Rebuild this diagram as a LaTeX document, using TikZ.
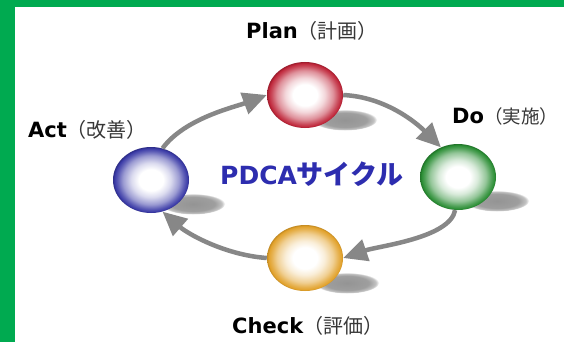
\documentclass[tikz,border=0pt]{standalone}
\usepackage{fontspec}
\setmainfont{DejaVu Sans}
\newfontfamily\jp{Noto Sans CJK JP}
\usetikzlibrary{shapes.geometric,arrows.meta}
\definecolor{frame}{RGB}{0,170,80}
\definecolor{ballR}{RGB}{190,35,55}
\definecolor{ballG}{RGB}{40,140,50}
\definecolor{ballB}{RGB}{55,55,165}
\definecolor{ballO}{RGB}{225,160,40}
\definecolor{arrowgray}{RGB}{135,135,135}
\definecolor{pdcablue}{RGB}{45,45,175}
\definecolor{jpgray}{RGB}{55,55,55}
\pgfdeclareradialshading{redball}{\pgfpoint{0bp}{0bp}}{color(0bp)=(white); color(8bp)=(white); color(13bp)=(ballR!18); color(18.5bp)=(ballR!50); color(22bp)=(ballR!82); color(24.3bp)=(ballR); color(25bp)=(ballR!80!black); color(50bp)=(ballR!80!black)}
\pgfdeclareradialshading{greenball}{\pgfpoint{0bp}{0bp}}{color(0bp)=(white); color(8bp)=(white); color(13bp)=(ballG!18); color(18.5bp)=(ballG!50); color(22bp)=(ballG!82); color(24.3bp)=(ballG); color(25bp)=(ballG!80!black); color(50bp)=(ballG!80!black)}
\pgfdeclareradialshading{blueball}{\pgfpoint{0bp}{0bp}}{color(0bp)=(white); color(8bp)=(white); color(13bp)=(ballB!18); color(18.5bp)=(ballB!50); color(22bp)=(ballB!82); color(24.3bp)=(ballB); color(25bp)=(ballB!80!black); color(50bp)=(ballB!80!black)}
\pgfdeclareradialshading{orangeball}{\pgfpoint{0bp}{0bp}}{color(0bp)=(white); color(8bp)=(white); color(13bp)=(ballO!18); color(18.5bp)=(ballO!50); color(22bp)=(ballO!82); color(24.3bp)=(ballO); color(25bp)=(ballO!85!black); color(50bp)=(ballO!85!black)}
\pgfdeclareradialshading{shadowsh}{\pgfpoint{0bp}{0bp}}{color(0bp)=(black!42); color(17bp)=(black!38); color(22.5bp)=(black!24); color(25bp)=(white); color(50bp)=(white)}
\tikzset{
  sphere/.style={ellipse, minimum width=76pt, minimum height=66pt, inner sep=0pt, draw=none},
  shadowball/.style={ellipse, minimum width=64pt, minimum height=21pt, inner sep=0pt, draw=none, shading=shadowsh},
  cyc/.style={draw=arrowgray, line width=4.5pt, -{Triangle[length=24pt,width=22pt]}},
  lab/.style={anchor=base west, inner sep=0pt, font=\fontsize{21}{24}\selectfont\bfseries}
}
\newcommand{\jpl}[1]{{\jp\mdseries\fontsize{20}{24}\selectfont\color{jpgray}#1}}
\newcommand{\jps}[1]{{\jp\mdseries\fontsize{18.5}{24}\selectfont\color{jpgray}#1}}
\begin{document}
\begin{tikzpicture}[x=1pt,y=-1pt]
\useasboundingbox (0,0) rectangle (564,342);
\fill[frame] (0,0) rectangle (564,342);
\fill[white] (15,7) rectangle (564,342);
% shadows
\node[shadowball] (ps) at (345,120) {};
\node[shadowball] (ds) at (497,201) {};
\node[shadowball] (as) at (193,204) {};
\node[shadowball] (cs) at (347,283) {};
% spheres
\node[sphere, shading=redball] (p) at (305,95) {};
\node[sphere, shading=greenball] (d) at (458,177) {};
\node[sphere, shading=blueball] (a) at (151,180) {};
\node[sphere, shading=orangeball] (c) at (305,258) {};
% arrows
\draw[cyc] (a.70) .. controls +(22,-30) and +(-32,12) .. (p.west);
\draw[cyc] (p.east) .. controls +(42,2) and +(-25,-25) .. (d.120);
\draw[cyc] (d.265) .. controls +(-5,28) and +(35,-12) .. (c.east);
\draw[cyc] (c.west) .. controls +(-42,-3) and +(25,22) .. (a.290);
% labels
\node[lab] (pl) at (246,39) {Plan\jpl{（計画）}};
\node[lab] (dl) at (452,123) {Do\jps{（実施）}};
\node[lab] (al) at (28,137) {Act\jpl{（改善）}};
\node[lab] (cl) at (232,333) {Check\jpl{（評価）}};
\node[anchor=base west, inner sep=0pt, text=pdcablue, font=\fontsize{25}{28}\selectfont\bfseries] (t) at (220,184) {PDCA{\jp\bfseries\fontsize{27}{28}\selectfont サイクル}};
\end{tikzpicture}
\end{document}
